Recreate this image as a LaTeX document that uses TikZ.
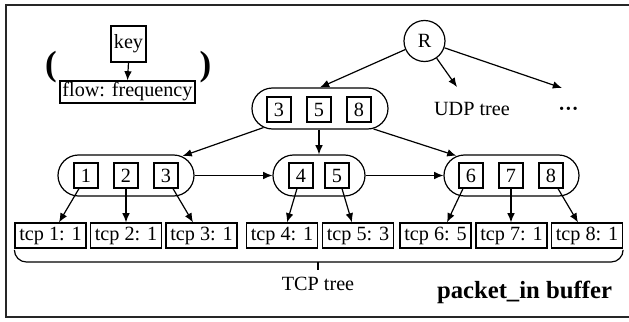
\documentclass[tikz,border=0pt]{standalone}
\usepackage{fontspec}
\setmainfont{Liberation Serif}
\usetikzlibrary{arrows.meta}
\begin{document}
\begin{tikzpicture}[x=0.5pt,y=-0.5pt,
  every node/.style={font=\fontsize{10.1}{11}\selectfont, inner sep=0pt},
  thin line/.style={line width=0.6pt},
  cell/.style={draw, thin line, minimum width=12pt, minimum height=12.5pt},
  leaf/.style={draw, thin line, minimum width=35.5pt, minimum height=12.5pt},
  bnode/.style={draw, thin line, rounded corners=10.25pt, minimum height=20.5pt},
  arr/.style={thin line, -{Latex[length=4.6pt,width=3.8pt]}},
  paren/.style={font=\bfseries\fontsize{17.5}{17.5}\selectfont}
]
\useasboundingbox (0,0) rectangle (629,322);
% outer frame (open to the right)
\draw[line width=1pt, black!85] (640,5) -- (6.5,5) -- (6.5,317) -- (640,317);

% legend: (key -> flow: frequency)
\node[draw, thin line, minimum width=17.5pt, minimum height=18pt] (key) at (128.5,44) {key};
\node[draw, thin line, minimum width=67.5pt, minimum height=11pt] (flow) at (127.5,92) {flow: frequency};
\draw[arr] (key.south) -- (flow.north);
\node[paren] (lp) at (51,67.5) {(};
\node[paren] (rp) at (205.5,67.5) {)};

% root and protocol subtrees
\node[draw, circle, thin line, minimum size=20.5pt] (R) at (424.5,41) {R};
\node[anchor=base] (udp) at (472,115) {UDP tree};
\node[anchor=base, font=\bfseries\fontsize{10.1}{11}\selectfont] (more) at (568.5,115) {···};
\coordinate (udpin) at (457,87);
\coordinate (morein) at (562,88);

% TCP tree: inner node
\node[bnode, minimum width=68pt] (root) at (320,108.5) {};
\node[cell] (r3) at (279,109.5) {3};
\node[cell] (r5) at (319,109.5) {5};
\node[cell] (r8) at (359,109.5) {8};

% TCP tree: second level
\node[bnode, minimum width=68pt] (l2a) at (126,175.5) {};
\node[cell] (a1) at (86,175.5) {1};
\node[cell] (a2) at (126,175.5) {2};
\node[cell] (a3) at (166,175.5) {3};
\node[bnode, minimum width=46pt] (l2b) at (319,175.5) {};
\node[cell] (b4) at (301,175.5) {4};
\node[cell] (b5) at (337,175.5) {5};
\node[bnode, minimum width=67.5pt] (l2c) at (511.5,175.5) {};
\node[cell] (c6) at (471,175.5) {6};
\node[cell] (c7) at (511,175.5) {7};
\node[cell] (c8) at (551,175.5) {8};

% leaves
\node[leaf] (t1) at (50.5,235.5) {tcp 1: 1};
\node[leaf] (t2) at (126,235.5) {tcp 2: 1};
\node[leaf] (t3) at (201.5,235.5) {tcp 3: 1};
\node[leaf] (t4) at (282,235.5) {tcp 4: 1};
\node[leaf] (t5) at (358,235.5) {tcp 5: 3};
\node[leaf] (t6) at (435.5,235.5) {tcp 6: 5};
\node[leaf] (t7) at (511.5,235.5) {tcp 7: 1};
\node[leaf] (t8) at (587,235.5) {tcp 8: 1};

% edges from R
\draw[arr] (R) -- (root.north);
\draw[arr] (R) -- (udpin);
\draw[arr] (R) -- (morein);

% edges inside the TCP tree
\draw[arr] ([shift={(6pt,1pt)}]root.south west) -- ([shift={(-6pt,-0.8pt)}]l2a.north east);
\draw[arr] (l2b.north |- root.south) -- (l2b.north);
\draw[arr] ([shift={(-7.5pt,0.3pt)}]root.south east) -- ([shift={(6.5pt,-0.7pt)}]l2c.north west);
\draw[arr] (l2a.east) -- (l2b.west);
\draw[arr] (l2b.east) -- (l2c.west);

\draw[arr] ([xshift=-3.5pt]a1.south) -- ([xshift=4.25pt]t1.north);
\draw[arr] (a2.south) -- (a2.south |- t2.north);
\draw[arr] ([xshift=3.5pt]a3.south) -- ([xshift=-4.25pt]t3.north);
\draw[arr] ([xshift=-2pt]b4.south) -- ([xshift=2.5pt]t4.north);
\draw[arr] ([xshift=2.5pt]b5.south) -- ([xshift=-3pt]t5.north);
\draw[arr] ([xshift=-4pt]c6.south) -- ([xshift=5.75pt]t6.north);
\draw[arr] (c7.south) -- (c7.south |- t7.north);
\draw[arr] ([xshift=3.5pt]c8.south) -- ([xshift=-4.5pt]t8.north);

% brace under the leaves
\coordinate (bmid) at (318,262);
\draw[thin line, rounded corners=6pt] ([yshift=-1pt]t1.south west) |- (bmid) -| ([yshift=-1pt]t8.south east);
\draw[thin line] (bmid) -- ++(0,8);
\node[anchor=base] (tcp) at (318,290) {TCP tree};

\node[anchor=base, font=\bfseries\fontsize{12.35}{14}\selectfont] (buf) at (524.5,298) {packet\_in buffer};
\end{tikzpicture}
\end{document}
